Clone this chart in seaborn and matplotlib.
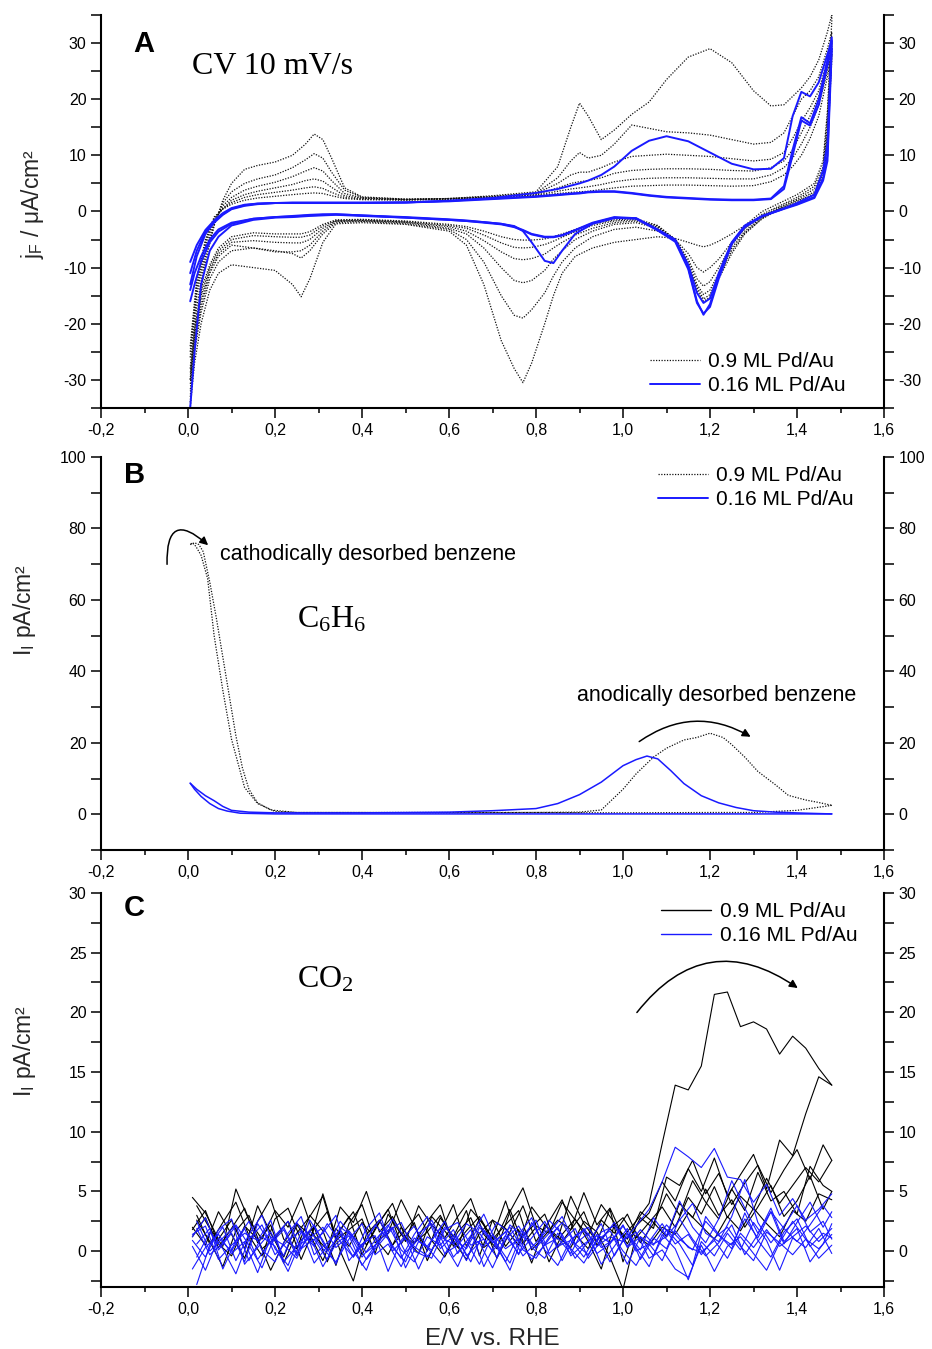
import numpy as np
import pandas as pd
import matplotlib
matplotlib.use("Agg")
import matplotlib.pyplot as plt
import seaborn as sns
from matplotlib.lines import Line2D
from matplotlib.ticker import MultipleLocator, FuncFormatter

sns.set_style("ticks", {"axes.edgecolor": "black", "xtick.color": "black",
                        "ytick.color": "black", "text.color": "black"})
plt.rcParams['font.family'] = ['Liberation Sans', 'DejaVu Sans']
plt.rcParams['mathtext.default'] = 'regular'

BLACK = '#111111'
BLUE = '#1a1aff'

# ---------------- panel A : CV, j_F in uA/cm2 ----------------
E_UP = [0.005, 0.02, 0.04, 0.06, 0.08, 0.10, 0.13, 0.16, 0.20, 0.24,
        0.27, 0.29, 0.31, 0.33, 0.36, 0.40, 0.50, 0.60, 0.70, 0.80,
        0.85, 0.88, 0.90, 0.92, 0.95, 0.98, 1.02, 1.06, 1.10, 1.15,
        1.20, 1.25, 1.30, 1.34, 1.37, 1.39, 1.41, 1.43, 1.45, 1.47,
        1.48]
E_DN = [1.48, 1.47, 1.46, 1.44, 1.40, 1.36, 1.32, 1.28, 1.25, 1.22,
        1.20, 1.185, 1.17, 1.15, 1.12, 1.08, 1.03, 0.98, 0.93, 0.89,
        0.86, 0.84, 0.82, 0.79, 0.77, 0.75, 0.72, 0.68, 0.64, 0.60,
        0.50, 0.40, 0.34, 0.31, 0.28, 0.26, 0.24, 0.20, 0.15, 0.10,
        0.07, 0.05, 0.03, 0.015, 0.005]

# 0.9 ML Pd/Au cycles
k1_up = [-34, -20, -9, -2.5, 2, 5, 7.5, 8.2, 8.8, 10,
         12, 13.8, 12.8, 9.5, 4.2, 2.6, 2.2, 2.3, 2.8, 3.5,
         8, 15, 19.3, 17, 12.8, 14.5, 17.3, 19.5, 23.5, 27.5,
         29, 26.5, 21.5, 18.8, 19, 20.5, 22, 24, 27, 32,
         35]
k1_dn = [34, 18, 9, 5, 3, 1.5, 0, -2.5, -4, -5.3,
         -6, -6.3, -6, -5.5, -4.8, -4.5, -5, -5.5, -6.5, -8,
         -11, -15, -20, -27, -30.5, -28, -23, -13, -6, -3.5,
         -2.3, -2, -2.2, -5.5, -12, -15.2, -13, -10.5, -10, -9.5,
         -11, -14, -20, -27, -35]
k2_up = [-30, -17, -8, -2.5, 1.5, 3.5, 5, 5.8, 6.5, 7.8,
         9.2, 10.3, 9.5, 7, 3.8, 2.5, 2.2, 2.3, 2.7, 3.3,
         6, 9, 10.5, 9.5, 10, 12, 15.4, 14.8, 14.2, 14,
         13.6, 12.8, 12, 12.3, 14, 17, 20, 21.5, 24, 29,
         32]
k2_dn = [32, 17, 8, 4.5, 2.5, 1, -0.5, -3, -5.5, -8.5,
         -10, -10.8, -10, -7.5, -5, -3.5, -2.8, -3.2, -4.5, -6.5,
         -9, -11.5, -14.5, -17.5, -19, -18.5, -15, -9, -5, -3.2,
         -2.2, -1.8, -2, -4, -7, -8.3, -7.5, -7, -6.5, -7,
         -9, -12, -18, -25, -33]
k3_up = [-28, -15, -7, -2, 1, 2.5, 3.8, 4.5, 5.2, 6.2,
         7.2, 7.8, 7.2, 5.5, 3.2, 2.4, 2.1, 2.3, 2.6, 3.2,
         5, 6.5, 7, 7, 7.8, 8.8, 9.8, 10, 10.2, 10,
         9.8, 9.4, 9, 9.3, 10.5, 13, 16, 18.5, 21.5, 27,
         30.5]
k3_dn = [30, 15, 7, 4, 2.2, 0.8, -0.8, -3, -6, -10,
         -12.5, -13.3, -12, -8.5, -5, -3, -2, -2.3, -3.5, -5,
         -7, -8.5, -10.5, -12.3, -12.7, -12.3, -10, -6.5, -4, -3,
         -2, -1.7, -1.8, -3.5, -6, -7, -7.2, -7.2, -6.5, -6,
         -8, -11, -17, -24, -32]
k4_up = [-26, -14, -6, -1.5, 0.5, 2, 3, 3.6, 4.2, 4.8,
         5.5, 5.8, 5.4, 4.3, 2.8, 2.3, 2.1, 2.2, 2.5, 3,
         4.2, 5, 5.3, 5.5, 6, 6.8, 7.3, 7.5, 7.6, 7.6,
         7.5, 7.3, 7.2, 7.8, 9, 11, 14, 17, 20.5, 26,
         30]
k4_dn = [29, 14, 6.5, 3.5, 2, 0.6, -1, -3.5, -6.5, -11,
         -14, -14.8, -13, -9, -5, -2.8, -1.7, -2, -3, -4.2,
         -5.5, -6.5, -7.6, -8.4, -8.6, -8.4, -7.2, -5.2, -3.5, -2.7,
         -1.9, -1.6, -1.7, -3, -5, -5.6, -5.6, -5.5, -5.2, -5.5,
         -7.5, -10.5, -16, -23, -31]
k5_up = [-25, -13, -5.5, -1.2, 0.5, 1.6, 2.5, 3, 3.4, 3.8,
         4.2, 4.4, 4.1, 3.4, 2.5, 2.2, 2.1, 2.2, 2.5, 2.9,
         3.6, 4, 4.2, 4.4, 4.8, 5.3, 5.7, 5.9, 6, 6,
         5.9, 5.8, 5.8, 6.5, 7.8, 9.5, 12, 15, 19, 25,
         29]
k5_dn = [28, 13, 6, 3.2, 1.8, 0.5, -1.2, -3.8, -7, -11.5,
         -14.8, -15.6, -13.5, -9.5, -5, -2.6, -1.5, -1.7, -2.5, -3.6,
         -4.6, -5.3, -5.9, -6.4, -6.5, -6.4, -5.6, -4.2, -3, -2.5,
         -1.8, -1.5, -1.6, -2.6, -4.2, -4.6, -4.6, -4.5, -4.3, -5,
         -7, -10, -15, -22, -30]
k6_up = [-24, -12, -5, -1, 0.4, 1.3, 2, 2.4, 2.7, 3,
         3.2, 3.3, 3.2, 2.8, 2.3, 2.1, 2, 2.2, 2.4, 2.8,
         3.2, 3.4, 3.5, 3.6, 3.9, 4.2, 4.5, 4.6, 4.7, 4.7,
         4.6, 4.5, 4.6, 5.3, 6.5, 8, 10, 13, 17, 24,
         28]
k6_dn = [27, 12, 5.5, 3, 1.6, 0.4, -1.3, -4, -7.5, -12,
         -15.3, -16, -14, -9.8, -5, -2.5, -1.3, -1.5, -2.2, -3.2,
         -4, -4.5, -4.9, -5.1, -5.1, -5, -4.5, -3.5, -2.7, -2.3,
         -1.7, -1.4, -1.5, -2.3, -3.6, -4, -4, -4, -3.8, -4.5,
         -6.5, -9.5, -14, -21, -29]

# 0.16 ML Pd/Au cycles
b1_up = [-9, -6, -3.3, -1.6, -0.3, 0.6, 1.2, 1.4, 1.5, 1.5,
         1.5, 1.5, 1.5, 1.5, 1.5, 1.5, 1.6, 1.9, 2.4, 3.3,
         4, 4.6, 5, 5.5, 6.5, 8, 10.8, 12.6, 13.4, 12.5,
         10.5, 8.5, 7.5, 7.6, 9.5, 17, 21.3, 20.5, 23, 28,
         30.5]
b1_dn = [30.5, 12, 7.4, 3, 1.5, 0.2, -0.8, -2.5, -5.5, -11,
         -15.5, -16.3, -14.5, -9.5, -5, -3.2, -1.2, -1.2, -2.2, -4,
         -7, -9.2, -8.8, -5.5, -3.5, -2.6, -2.2, -1.9, -1.7, -1.5,
         -1.1, -0.7, -0.5, -0.5, -0.6, -0.7, -0.8, -1, -1.3, -2,
         -3.2, -5, -8, -11, -14]
b2_up = [-11, -7, -3.6, -1.8, -0.5, 0.5, 1.1, 1.4, 1.5, 1.6,
         1.6, 1.6, 1.6, 1.6, 1.6, 1.6, 1.6, 1.9, 2.3, 2.7,
         3, 3.2, 3.3, 3.5, 3.6, 3.6, 3.3, 2.9, 2.6, 2.4,
         2.2, 2.1, 2.1, 2.3, 4.5, 11, 16.8, 15.7, 20, 27,
         31]
b2_dn = [31, 10, 6, 2.6, 1.3, 0.3, -0.8, -2.6, -5.6, -11.5,
         -16.5, -18.4, -16, -10, -5.2, -3.3, -1.2, -1, -2, -3.3,
         -4.2, -4.5, -4.5, -4, -3.3, -2.7, -2.2, -1.9, -1.6, -1.4,
         -1, -0.7, -0.5, -0.6, -0.7, -0.8, -0.9, -1, -1.3, -2.2,
         -3.6, -5.5, -9, -13, -16]
b3_up = [-13, -8, -4, -2, -0.6, 0.4, 1, 1.3, 1.5, 1.5,
         1.5, 1.5, 1.5, 1.5, 1.5, 1.5, 1.6, 1.8, 2.2, 2.6,
         2.9, 3.1, 3.2, 3.4, 3.5, 3.5, 3.2, 2.8, 2.5, 2.3,
         2.1, 2, 2, 2.2, 4, 10, 16.2, 15.3, 19, 26,
         29]
b3_dn = [29, 9, 5.5, 2.4, 1.2, 0.2, -0.9, -2.8, -5.8, -12,
         -17, -18.2, -16.3, -10.3, -5.4, -3.4, -1.3, -1.1, -2.1, -3.4,
         -4.3, -4.6, -4.6, -4.1, -3.4, -2.8, -2.3, -2, -1.7, -1.5,
         -1.1, -0.8, -0.6, -0.7, -0.8, -0.9, -1, -1.1, -1.5, -2.5,
         -4.5, -7, -13, -25, -35]

cv_black = [(k1_up, k1_dn), (k2_up, k2_dn), (k3_up, k3_dn),
            (k4_up, k4_dn), (k5_up, k5_dn), (k6_up, k6_dn)]
cv_blue = [(b1_up, b1_dn), (b2_up, b2_dn), (b3_up, b3_dn)]

# ---------------- panel B : C6H6 ion current ----------------
bk_dn_E = [1.48, 1.40, 1.30, 1.20, 1.00, 0.80, 0.60, 0.40, 0.25, 0.20,
           0.16, 0.13, 0.10, 0.08, 0.06, 0.045, 0.03, 0.018, 0.01, 0.005]
bk_dn_I = [2.5, 1.1, 0.5, 0.5, 0.4, 0.5, 0.4, 0.5, 0.5, 0.8,
           3.0, 7.5, 21.0, 34.7, 50.0, 66.0, 72.5, 75.0, 76.0, 75.5]
bk_up_E = [0.005, 0.015, 0.025, 0.035, 0.05, 0.065, 0.08, 0.095, 0.11, 0.125,
           0.14, 0.16, 0.19, 0.25, 0.40, 0.60, 0.80, 0.90, 0.95, 1.00,
           1.03, 1.07, 1.10, 1.14, 1.17, 1.20, 1.23, 1.25, 1.28, 1.31,
           1.35, 1.38, 1.42, 1.45, 1.48]
bk_up_I = [75.5, 76.0, 75.5, 73.5, 65.0, 55.0, 44.0, 33.0, 22.0, 13.0,
           7.0, 3.2, 1.2, 0.5, 0.5, 0.5, 0.5, 0.6, 1.2, 7.0,
           11.3, 16.0, 18.5, 20.8, 21.5, 22.7, 21.5, 19.5, 16.0, 12.0,
           8.3, 5.3, 4.0, 3.3, 2.5]
bl_dn_E = [1.48, 1.20, 1.00, 0.80, 0.60, 0.40, 0.20, 0.12, 0.09, 0.07,
           0.05, 0.03, 0.015, 0.005]
bl_dn_I = [0.1, 0.1, 0.1, 0.1, 0.1, 0.1, 0.1, 0.3, 0.9, 1.6,
           3.0, 5.0, 7.0, 8.7]
bl_up_E = [0.005, 0.02, 0.04, 0.06, 0.08, 0.10, 0.14, 0.20, 0.40, 0.60,
           0.70, 0.75, 0.80, 0.85, 0.90, 0.95, 1.00, 1.03, 1.055, 1.08,
           1.11, 1.14, 1.18, 1.22, 1.26, 1.30, 1.35, 1.42, 1.48]
bl_up_I = [8.7, 7.0, 5.2, 3.8, 2.2, 1.1, 0.6, 0.4, 0.4, 0.6,
           1.0, 1.3, 1.6, 3.0, 5.5, 9.0, 13.6, 15.3, 16.3, 15.5,
           12.2, 8.6, 5.2, 3.2, 1.9, 1.0, 0.6, 0.3, 0.1]

# ---------------- panel C : CO2 ion current ----------------
E_C = [0.01, 0.04, 0.07, 0.10, 0.13, 0.16, 0.19, 0.22, 0.25, 0.28,
       0.31, 0.34, 0.37, 0.40, 0.43, 0.46, 0.49, 0.52, 0.55, 0.58,
       0.61, 0.64, 0.67, 0.70, 0.73, 0.76, 0.79, 0.82, 0.85, 0.88,
       0.91, 0.94, 0.97, 1.00, 1.03, 1.06, 1.09, 1.12, 1.15, 1.18,
       1.21, 1.24, 1.27, 1.30, 1.33, 1.36, 1.39, 1.42, 1.45, 1.48]
E_C2 = [0.02, 0.05, 0.08, 0.11, 0.14, 0.17, 0.20, 0.23, 0.26, 0.29,
        0.32, 0.35, 0.38, 0.41, 0.44, 0.47, 0.50, 0.53, 0.56, 0.59,
        0.62, 0.65, 0.68, 0.71, 0.74, 0.77, 0.80, 0.83, 0.86, 0.89,
        0.92, 0.95, 0.98, 1.01, 1.04, 1.07, 1.10, 1.13, 1.16, 1.19,
        1.22, 1.25, 1.28, 1.31, 1.34, 1.37, 1.40, 1.43, 1.46, 1.48]

co2_black = [
    [4.5, 3.2, 1.0, 2.6, 0.2, 3.8, 1.5, -0.5, 2.2, 0.8,
     4.8, 1.2, 2.9, -0.3, 1.9, 3.5, 0.6, 2.4, -0.8, 1.6,
     3.9, 0.4, 2.7, 1.1, 4.2, 0.9, 2.0, 3.1, 0.3, 1.8,
     4.9, 2.2, 3.6, 1.2, 2.5, 4.0, 9.0, 13.9, 13.5, 15.5,
     21.5, 21.7, 18.8, 19.2, 18.6, 16.5, 18.0, 17.0, 15.3, 13.9],
    [2.0, 0.5, 3.3, 1.4, -0.6, 2.5, 4.4, 1.0, 0.2, 3.0,
     1.7, -1.2, 2.3, 3.9, 0.7, 1.5, 4.3, 2.1, 0.0, 2.8,
     1.2, 3.4, -0.4, 2.6, 1.9, 0.5, 3.7, 2.2, 1.0, 4.6,
     2.3, 0.8, 3.5, -0.9, 2.1, 3.2, 5.8, 4.2, 6.9, 5.0,
     7.8, 4.6, 6.4, 8.1, 5.2, 9.3, 8.0, 11.5, 14.6, 13.9],
    [3.8, 1.9, 0.4, 5.2, 2.6, 1.0, 3.4, 2.0, 4.5, 1.3,
     0.1, 3.7, 2.4, 5.0, 1.6, 2.9, 0.8, 3.8, 2.2, 1.1,
     2.9, 4.4, 1.4, 0.2, 3.3, 5.3, 2.1, 1.5, 4.1, 2.6,
     1.3, 3.9, 2.4, 0.6, 2.8, 1.9, 6.2, 5.5, 7.6, 4.8,
     6.5, 3.9, 5.7, 7.2, 4.9, 6.8, 8.5, 6.0, 8.9, 7.6],
    [1.2, 2.8, 0.3, 1.9, 3.6, 0.7, 2.2, -1.0, 1.5, 2.9,
     4.6, 0.9, 1.8, 2.7, -0.2, 3.1, 1.4, 0.6, 2.5, 3.9,
     0.4, 1.7, 2.9, 1.0, 2.2, 3.4, 0.1, 1.3, 2.6, 1.8,
     3.3, 0.5, 1.9, 2.8, 1.1, 2.4, 3.7, 2.0, 4.5, 3.1,
     5.4, 2.8, 4.6, 3.5, 6.1, 4.0, 5.5, 7.0, 5.8, 7.6],
    [2.6, 0.8, -1.3, 1.7, 3.0, 0.2, 1.1, 2.5, -0.7, 1.9,
     3.3, 0.0, -2.5, 1.4, 2.6, 0.5, 1.8, 3.1, 0.9, -0.5,
     1.6, 2.8, 0.3, 1.2, 3.5, 0.6, 2.0, -0.9, 1.4, 2.7,
     0.8, -1.5, 2.2, 1.0, 3.3, 2.4, 1.2, 4.0, 2.8, 5.2,
     3.0, 4.3, 2.0, 3.7, 5.5, 2.9, 4.2, 6.3, 3.5, 5.0],
    [1.8, 3.4, 0.6, -0.4, 2.1, 1.0, -1.6, 0.7, 2.3, 1.4,
     -0.8, 1.9, 0.4, 2.4, 1.1, -0.3, 2.0, 0.7, 1.6, 3.0,
     0.9, -0.7, 1.5, 2.6, 0.4, 1.8, -1.0, 2.2, 1.2, 0.3,
     2.5, 1.6, -0.5, -3.2, 1.3, 0.5, 2.0, 1.4, 3.2, 2.1,
     1.0, 2.9, 1.7, 3.6, 2.3, 1.2, 3.4, 2.5, 4.8, 4.3],
    [3.0, 0.6, 2.4, 4.1, 1.3, -0.4, 2.7, 3.6, 0.9, 2.0,
     -0.9, 1.8, 3.3, 0.5, 2.4, 4.0, 1.1, -0.2, 2.9, 1.7,
     0.3, 3.5, 2.2, -0.6, 1.6, 3.8, 0.8, 2.5, 4.3, 1.4,
     0.2, 2.6, 1.5, 3.1, 0.7, 2.3, 4.8, 3.0, 5.9, 4.1,
     2.7, 5.2, 3.4, 6.6, 4.2, 5.0, 3.1, 7.1, 5.5, 5.0],
]
co2_black_E = [E_C, E_C, E_C2, E_C, E_C2, E_C, E_C2]

co2_blue = [
    [1.2, 2.8, 0.1, 1.5, -0.9, 2.3, 0.6, 1.8, -0.4, 2.6,
     0.9, -1.1, 1.7, 0.3, 2.2, 1.0, -0.6, 1.4, 2.9, 0.2,
     1.3, -0.8, 2.0, 0.7, 1.6, -0.3, 2.4, 0.5, 1.1, -0.2,
     1.9, 0.4, 1.2, 0.8, 2.1, 3.5, 5.8, 8.7, 7.9, 7.0,
     8.6, 6.2, 6.0, 4.1, 5.6, 3.0, 4.4, 2.6, 3.5, 4.8],
    [0.4, -1.6, 1.1, 0.0, 1.9, -0.7, 0.8, 2.0, -0.2, 1.3,
     -1.3, 0.6, 1.5, -0.5, 0.9, 2.2, 0.1, -0.9, 1.2, 0.5,
     1.8, -0.4, 0.7, -1.4, 1.0, 2.1, 0.3, -0.6, 1.5, 0.2,
     -1.0, 0.9, 1.7, 0.0, -1.2, 0.8, 2.3, 0.6, 1.4, -0.3,
     1.1, 2.0, 0.4, -0.8, 1.6, 0.7, 2.5, 1.0, -0.6, 0.5],
    [-2.8, 0.5, 2.0, -0.8, 1.4, 3.0, 0.2, -1.2, 1.6, 0.4,
     2.3, 0.8, -0.5, 1.9, 3.2, 0.0, 1.1, -1.5, 0.9, 2.5,
     -0.2, 1.3, 3.1, 0.6, -1.0, 1.7, 0.2, 2.6, 1.4, -0.6,
     0.8, 2.3, -0.4, 1.5, 0.1, 2.8, 1.3, 4.2, 2.0, 0.7,
     2.7, 5.9, 3.6, 1.5, 3.3, 0.6, 2.4, 4.1, 2.0, 3.3],
    [0.9, -0.5, 1.8, 2.7, -1.1, 0.3, 1.6, -0.4, 2.4, 0.7,
     1.5, 3.0, -0.8, 0.6, 1.3, -1.7, 0.9, 2.1, 0.3, -1.0,
     1.1, 0.2, 2.2, 0.9, -0.9, 1.4, 2.8, 0.1, -1.2, 1.0,
     1.7, -0.2, 0.6, 2.1, 0.3, -1.3, 1.4, 0.2, -2.4, 0.8,
     -0.4, 1.5, 0.1, 2.4, 0.9, -1.6, 1.1, 0.3, 1.9, -0.2],
    [0.6, 1.9, -1.5, 0.9, 2.5, 0.1, -0.9, 1.5, 2.9, -0.3,
     0.7, 1.8, 0.0, -1.6, 1.3, 2.0, -0.1, 1.0, 2.6, 0.5,
     -1.3, 1.2, 0.4, 2.4, 1.5, -0.4, 0.7, 1.9, -0.8, 1.3,
     2.0, 0.3, 1.0, -1.1, 1.2, 0.5, 2.2, 1.0, 0.1, 2.5,
     1.3, 0.5, 2.7, 1.1, 3.3, 1.9, 0.8, 2.2, 3.8, 2.8],
    [-1.5, 0.3, 1.4, -0.2, 0.8, -1.8, 1.2, 0.5, -0.6, 1.7,
     0.2, -0.9, 1.0, 2.3, -0.3, 0.6, -1.3, 1.1, 0.4, 1.9,
     -0.5, 0.8, -1.1, 1.4, 0.2, 1.0, -0.7, 0.5, 2.0, -0.4,
     0.6, 1.3, -0.9, 0.9, 1.6, -0.6, 0.1, -1.5, -2.2, 0.5,
     -1.7, 0.4, 1.2, -0.2, -1.6, 0.7, -0.3, 1.0, 0.2, 1.4],
    [2.5, 0.0, 1.1, 2.2, 0.5, -1.4, 1.3, 2.5, 0.2, 1.0,
     -0.7, 2.0, 1.2, -0.1, 0.8, 2.7, 1.0, 0.1, -0.6, 1.8,
     2.4, 0.5, 1.0, -0.5, 2.2, 1.2, 0.3, 1.5, 2.9, 0.6,
     -0.3, 1.6, 2.1, 0.4, 1.8, 0.6, 1.2, 2.6, 4.0, 1.5,
     0.8, 2.9, 6.0, 2.4, 0.7, 2.1, 3.8, 1.6, 2.5, 1.0],
    [1.4, 2.1, -0.7, 0.5, 1.5, 0.9, 2.6, -0.9, 0.4, 1.1,
     2.0, 0.3, 1.3, -1.2, 0.5, 1.7, 2.4, 0.0, -0.5, 1.2,
     0.6, 2.3, 1.5, 0.0, 1.3, -0.2, 1.1, 2.5, 0.4, 0.9,
     -0.5, 1.4, 0.7, 2.2, 0.0, 0.6, -0.8, 1.7, 0.3, -0.1,
     0.9, -0.6, 1.5, 0.3, 1.8, 0.4, 1.2, 2.1, 0.8, 1.9],
    [-0.5, 1.6, 0.2, -1.9, 1.0, 2.2, -0.3, 0.9, 1.7, -1.0,
     0.4, 2.5, 1.1, -0.7, 0.6, 1.9, -1.4, 0.8, 0.1, 2.0,
     1.0, -0.9, 1.7, 0.5, -1.6, 1.3, 2.6, -0.2, 0.8, 1.9,
     -0.6, 0.9, 2.4, 0.3, 1.2, -0.4, 1.8, 0.6, -1.2, 2.9,
     1.4, 0.2, 3.2, 0.9, -0.5, 1.6, 2.7, 0.4, 1.5, 1.1],
    [1.9, -0.3, 0.7, 2.1, -0.8, 1.2, 0.4, -1.7, 0.9, 2.2,
     0.0, 1.4, -0.5, 1.0, 2.6, 0.3, -0.9, 1.5, 2.3, -0.2,
     0.5, 1.8, -1.3, 0.9, 2.0, 0.1, -0.6, 1.2, 2.4, 0.6,
     1.5, -1.1, 0.4, 1.9, -0.7, 1.1, 0.2, 2.7, 1.0, -0.4,
     0.7, 2.2, -0.3, 1.4, 3.6, 0.8, 1.9, -0.9, 0.6, 2.3],
]
co2_blue_E = [E_C, E_C, E_C2, E_C, E_C2, E_C, E_C2, E_C, E_C2, E_C2]

# ---------- build long tables ----------
rows = []
for grp, cycles in [('black', cv_black), ('blue', cv_blue)]:
    for n, (up, dn) in enumerate(cycles):
        for e, j in zip(E_UP + E_DN, up + dn):
            rows.append((grp, f'{grp}{n}', e, j))
dfA = pd.DataFrame(rows, columns=['grp', 'cycle', 'E', 'j'])

rows = []
for grp, branches in [('black', [(bk_dn_E, bk_dn_I), (bk_up_E, bk_up_I)]),
                      ('blue', [(bl_dn_E, bl_dn_I), (bl_up_E, bl_up_I)])]:
    for n, (ee, ii) in enumerate(branches):
        for e, i in zip(ee, ii):
            rows.append((grp, f'{grp}{n}', e, i))
dfB = pd.DataFrame(rows, columns=['grp', 'cycle', 'E', 'I'])

rows = []
for grp, branches, grids in [('black', co2_black, co2_black_E),
                             ('blue', co2_blue, co2_blue_E)]:
    for n, (ii, ee) in enumerate(zip(branches, grids)):
        for e, i in zip(ee, ii):
            rows.append((grp, f'{grp}{n}', e, i))
dfC = pd.DataFrame(rows, columns=['grp', 'cycle', 'E', 'I'])

# ---------- figure ----------
fig = plt.figure(figsize=(9.32, 13.49), dpi=100)
axA = fig.add_axes([0.1084, 0.6976, 0.8401, 0.2913])
axB = fig.add_axes([0.1084, 0.3699, 0.8401, 0.2913])
axC = fig.add_axes([0.1084, 0.0460, 0.8401, 0.2921])


def comma(v, pos):
    if abs(v) < 1e-9:
        v = 0.0
    return f"{v:.1f}".replace('.', ',')


def style(ax, lo, hi, major, minor):
    ax.set_xlim(-0.2, 1.6)
    ax.set_ylim(lo, hi)
    ax.xaxis.set_major_locator(MultipleLocator(0.2))
    ax.xaxis.set_minor_locator(MultipleLocator(0.1))
    ax.yaxis.set_major_locator(MultipleLocator(major))
    ax.yaxis.set_minor_locator(MultipleLocator(minor))
    ax.xaxis.set_major_formatter(FuncFormatter(comma))
    ax.yaxis.set_major_formatter(FuncFormatter(lambda v, p: f"{v:.0f}"))
    ax.tick_params(which='both', direction='out', left=True, right=True,
                   labelright=True, top=False, labelsize=11.5, width=1.1)
    ax.tick_params(axis='x', which='major', length=7)
    ax.tick_params(axis='x', which='minor', length=3.5)
    ax.tick_params(axis='y', which='both', length=7)
    for s in ['left', 'right', 'bottom']:
        ax.spines[s].set_linewidth(1.5)
    ax.spines['top'].set_visible(False)
    ax.set_xlabel('')


dot = (0, (1, 1.2))
leg_kw = dict(frameon=False, fontsize=15, handlelength=2.4, handletextpad=0.4,
              labelspacing=0.25)
arrow_kw = dict(arrowstyle='-|>', color='black', lw=1.1, mutation_scale=12)

# panel A
sns.lineplot(data=dfA[dfA.grp == 'black'], x='E', y='j', units='cycle', estimator=None,
             sort=False, color=BLACK, lw=0.9, linestyle=dot, legend=False, ax=axA)
sns.lineplot(data=dfA[dfA.grp == 'blue'], x='E', y='j', units='cycle', estimator=None,
             sort=False, color=BLUE, lw=1.4, legend=False, ax=axA)
style(axA, -35, 35, 10, 5)
axA.set_ylabel('j$_F$ / μA/cm²', fontsize=16.5)
axA.yaxis.set_label_coords(-0.07, 0.52)
axA.text(0.054, 0.926, 'A', transform=axA.transAxes, fontsize=21, fontweight='bold',
         ha='center', va='center')
axA.text(0.116, 0.870, 'CV 10 mV/s', transform=axA.transAxes, fontsize=23,
         family=['Liberation Serif'], ha='left', va='center')
hA = [Line2D([], [], color=BLACK, lw=0.9, linestyle=dot),
      Line2D([], [], color=BLUE, lw=1.4)]
axA.legend(hA, ['0.9 ML Pd/Au', '0.16 ML Pd/Au'], loc='lower right',
           bbox_to_anchor=(0.975, -0.015), **leg_kw)

# panel B
sns.lineplot(data=dfB[dfB.grp == 'black'], x='E', y='I', units='cycle', estimator=None,
             sort=False, color=BLACK, lw=0.9, linestyle=dot, legend=False, ax=axB)
sns.lineplot(data=dfB[dfB.grp == 'blue'], x='E', y='I', units='cycle', estimator=None,
             sort=False, color=BLUE, lw=1.1, legend=False, ax=axB)
style(axB, -10, 100, 20, 10)
axB.set_ylabel('I$_I$ pA/cm²', fontsize=16.5)
axB.yaxis.set_label_coords(-0.08, 0.61)
axB.text(0.043, 0.954, 'B', transform=axB.transAxes, fontsize=21, fontweight='bold',
         ha='center', va='center')
axB.text(0.25, 0.585, 'C$_6$H$_6$', transform=axB.transAxes, fontsize=23,
         family=['Liberation Serif'], ha='left', va='center')
axB.text(0.074, 72.8, 'cathodically desorbed benzene', fontsize=15.5, ha='left', va='center')
axB.text(0.894, 33.3, 'anodically desorbed benzene', fontsize=15.5, ha='left', va='center')
axB.annotate('', xy=(0.051, 74.8), xytext=(-0.048, 69.2),
             arrowprops=dict(connectionstyle='arc3,rad=-1.2', **arrow_kw))
axB.annotate('', xy=(1.299, 21.3), xytext=(1.032, 19.9),
             arrowprops=dict(connectionstyle='arc3,rad=-0.33', **arrow_kw))
axB.legend(hA, ['0.9 ML Pd/Au', '0.16 ML Pd/Au'], loc='upper right',
           bbox_to_anchor=(0.985, 1.025), **leg_kw)

# panel C
sns.lineplot(data=dfC[dfC.grp == 'black'], x='E', y='I', units='cycle', estimator=None,
             sort=False, color='black', lw=0.8, legend=False, ax=axC)
sns.lineplot(data=dfC[dfC.grp == 'blue'], x='E', y='I', units='cycle', estimator=None,
             sort=False, color=BLUE, lw=0.8, legend=False, ax=axC)
style(axC, -3, 30, 5, 2.5)
axC.set_ylabel('I$_I$ pA/cm²', fontsize=16.5)
axC.yaxis.set_label_coords(-0.08, 0.6)
axC.set_xlabel('E/V vs. RHE', fontsize=17.5, labelpad=8)
axC.text(0.043, 0.962, 'C', transform=axC.transAxes, fontsize=21, fontweight='bold',
         ha='center', va='center')
axC.text(0.25, 0.779, 'CO$_2$', transform=axC.transAxes, fontsize=23,
         family=['Liberation Serif'], ha='left', va='center')
axC.annotate('', xy=(1.407, 21.9), xytext=(1.028, 19.8),
             arrowprops=dict(connectionstyle='arc3,rad=-0.48', **arrow_kw))
hC = [Line2D([], [], color='black', lw=1.0), Line2D([], [], color=BLUE, lw=1.0)]
axC.legend(hC, ['0.9 ML Pd/Au', '0.16 ML Pd/Au'], loc='upper right',
           bbox_to_anchor=(0.99, 1.025), **leg_kw)

fig.savefig('out.png', dpi=100)
